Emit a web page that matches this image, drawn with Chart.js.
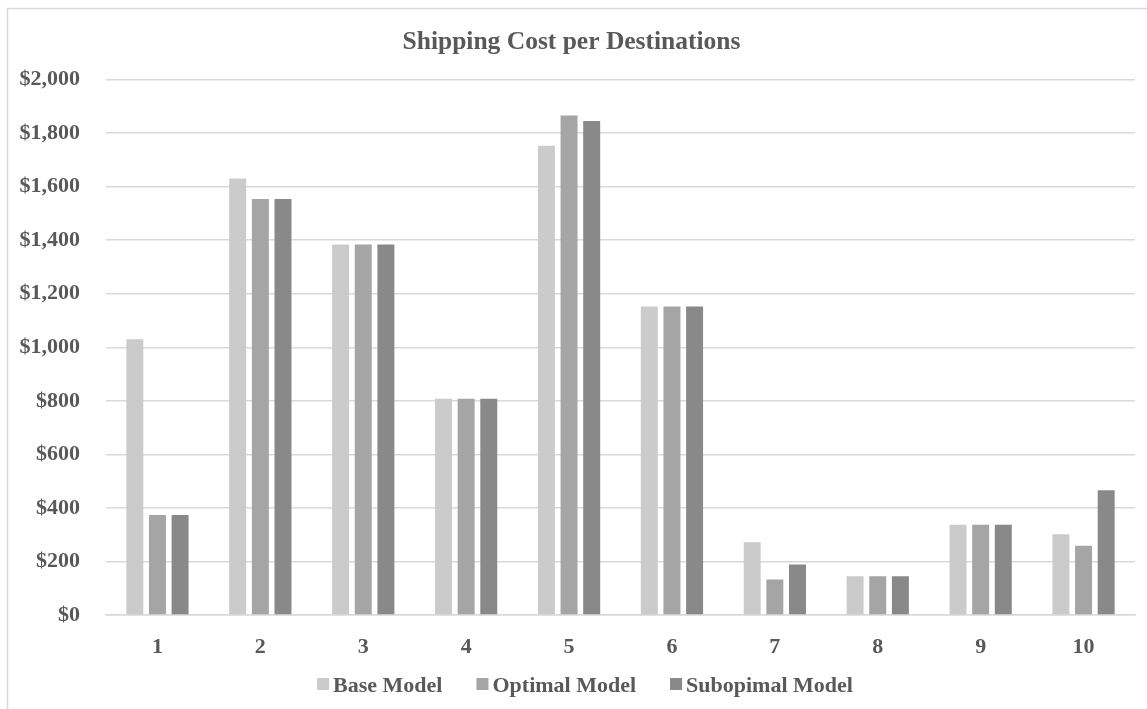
<!DOCTYPE html>
<html>
<head>
<meta charset="utf-8">
<title>Shipping Cost per Destinations</title>
<script src="https://cdn.jsdelivr.net/npm/chart.js@4.4.0/dist/chart.umd.min.js"></script>
<style>
  html, body { margin: 0; padding: 0; background: #fff; }
  #wrap { position: relative; width: 1147px; height: 709px; }
</style>
</head>
<body>
<div id="wrap"><canvas id="myChart" width="1147" height="709"></canvas></div>
<script>
// destinations 1..10
const destinations = ['1', '2', '3', '4', '5', '6', '7', '8', '9', '10'];
const baseModel = [1030, 1631, 1384, 808, 1753, 1152, 272, 145, 337, 302];
const optimalModel = [374, 1554, 1384, 808, 1866, 1152, 133, 145, 337, 259];
const subopimalModel = [374, 1554, 1384, 808, 1845, 1152, 189, 145, 337, 466];
const yTicks = [0, 200, 400, 600, 800, 1000, 1200, 1400, 1600, 1800, 2000];

const textColor = '#595959';
const gridColor = '#d9d9d9';
const serif = "'Liberation Serif', 'Times New Roman', serif";

// light frame round the whole chart
const frame = {
    id: 'frame',
    beforeDraw(chart) {
        const c = chart.ctx;
        c.save();
        c.strokeStyle = gridColor;
        c.lineWidth = 1.5;
        c.strokeRect(7.5, 8.5, chart.width + 20, chart.height + 20);
        c.restore();
    }
};

// legend in one row under the axis, with wider gaps than the built-in one
const rowLegend = {
    id: 'rowLegend',
    afterDraw(chart) {
        const c = chart.ctx;
        const box = 12, gap = 4, itemGap = 34;
        const centerX = 585, centerY = 686;
        c.save();
        c.font = 'bold 22px ' + serif;
        c.textBaseline = 'middle';
        const items = chart.data.datasets.map(ds => ({
            text: ds.label,
            color: ds.backgroundColor,
            w: c.measureText(ds.label).width
        }));
        const total = items.reduce((s, it) => s + box + gap + it.w, 0) + itemGap * (items.length - 1);
        let x = centerX - total / 2;
        items.forEach(it => {
            c.fillStyle = it.color;
            c.fillRect(x, centerY - box / 2 - 2, box, box);
            c.fillStyle = textColor;
            c.fillText(it.text, x + box + gap, centerY);
            x += box + gap + it.w + itemGap;
        });
        c.restore();
    }
};

const ctx = document.getElementById('myChart').getContext('2d');
const myChart = new Chart(ctx, {
    type: 'bar',
    data: {
        labels: destinations,
        datasets: [
            { label: 'Base Model', data: baseModel, backgroundColor: '#cbcbcb' },
            { label: 'Optimal Model', data: optimalModel, backgroundColor: '#a5a5a5' },
            { label: 'Subopimal Model', data: subopimalModel, backgroundColor: '#898989' }
        ]
    },
    options: {
        responsive: false,
        animation: false,
        categoryPercentage: 0.66,
        barPercentage: 0.75,
        layout: { padding: { left: 8, right: 12, top: 0, bottom: 46 } },
        plugins: {
            title: {
                display: true,
                text: 'Shipping Cost per Destinations',
                color: textColor,
                font: { family: serif, size: 25.5, weight: 'bold' },
                padding: { top: 27, bottom: 22 }
            },
            legend: { display: false },
            tooltip: { enabled: false }
        },
        scales: {
            x: {
                afterFit(scale) { scale.height = 48; },
                grid: { display: false, drawTicks: false },
                border: { color: gridColor, width: 1.5 },
                ticks: {
                    color: textColor,
                    font: { family: serif, size: 22, weight: 'bold' },
                    padding: 19
                }
            },
            y: {
                min: 0,
                max: 2000,
                afterFit(scale) { scale.width = 98; },
                afterBuildTicks(scale) {
                    scale.ticks = yTicks.map(v => ({ value: v }));
                },
                grid: { color: gridColor, lineWidth: 1.5, drawTicks: false },
                border: { display: false },
                ticks: {
                    color: textColor,
                    font: { family: serif, size: 22, weight: 'bold' },
                    padding: 26,
                    callback: v => '$' + v.toLocaleString('en-US')
                }
            }
        }
    },
    plugins: [frame, rowLegend]
});
</script>
</body>
</html>
